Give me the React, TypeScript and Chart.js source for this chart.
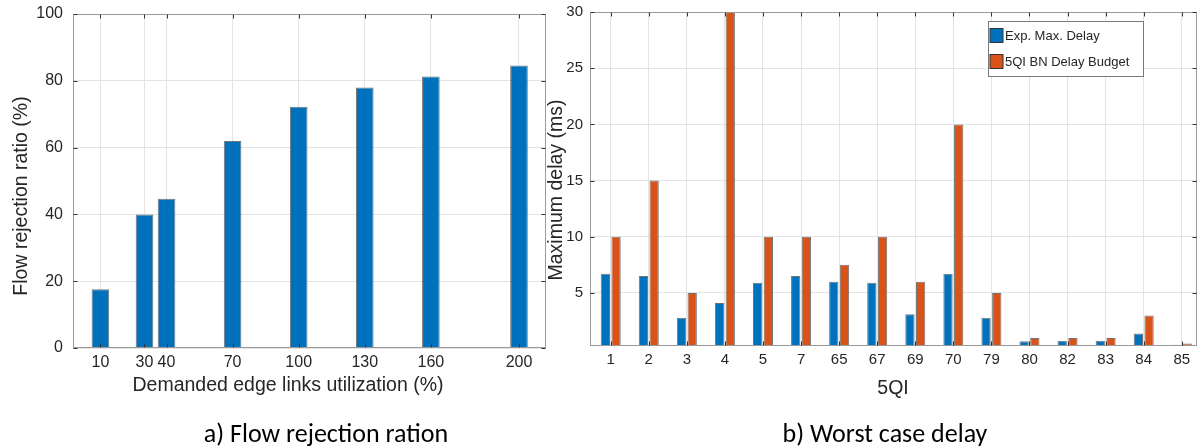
import React, { useEffect, useRef } from 'react';
import { Chart, registerables } from 'chart.js';

Chart.register(...registerables);

// ---- Data: left chart (a) ----
const utilization = [10, 30, 40, 70, 100, 130, 160, 200];
const rejectionRatio = [17.6, 40, 44.7, 62, 72.2, 78, 81.3, 84.6];
const rejectionTicks = [0, 20, 40, 60, 80, 100];

// ---- Data: right chart (b) ----
const qciLabels = ['1', '2', '3', '4', '5', '7', '65', '67', '69', '70', '79', '80', '82', '83', '84', '85'];
const expMaxDelay = [6.7, 6.5, 2.8, 4.1, 5.9, 6.5, 6.0, 5.9, 3.1, 6.7, 2.8, 0.7, 0.75, 0.75, 1.4, 0.4];
const delayBudget = [10, 15, 5, 30, 10, 10, 7.5, 10, 6, 20, 5, 1, 1, 1, 3, 0.5];
const delayTicks = [5, 10, 15, 20, 25, 30];

const seriesNames = ['Exp. Max. Delay', '5QI BN Delay Budget'];
const axisTitles = {
  ax: 'Demanded edge links utilization (%)',
  ay: 'Flow rejection ratio (%)',
  bx: '5QI',
  by: 'Maximum delay (ms)',
};
const captions = ['a) Flow rejection ration', 'b) Worst case delay'];

const FONT = "'Liberation Sans', Arial, Helvetica, sans-serif";
const TEXT = '#262626';
const GRID = '#e4e4e4';
const FRAME = '#9a9a9a';
const BLUE = '#0072BD';
const ORANGE = '#D95319';
const EDGE = 'rgba(0,0,0,0.55)';

const framePlugin = {
  id: 'matlabFrame',
  afterDatasetsDraw(chart: any) {
    const { ctx, chartArea: a, scales } = chart;
    const L = Math.round(a.left) + 0.5;
    const R = Math.round(a.right) - 0.5;
    const T = Math.round(a.top) + 0.5;
    const B = Math.round(a.bottom) - 0.5;
    ctx.save();
    ctx.lineWidth = 1;
    ctx.strokeStyle = FRAME;
    ctx.strokeRect(L, T, R - L, B - T);
    ctx.strokeStyle = '#333';
    ctx.beginPath();
    const xs = scales.x;
    xs.ticks.forEach((_: any, i: number) => {
      const px = Math.round(xs.getPixelForTick(i)) + 0.5;
      ctx.moveTo(px, B); ctx.lineTo(px, B - 4);
      ctx.moveTo(px, T); ctx.lineTo(px, T + 4);
    });
    const ys = scales.y;
    ys.ticks.forEach((_: any, i: number) => {
      const py = Math.round(ys.getPixelForTick(i)) + 0.5;
      ctx.moveTo(L, py); ctx.lineTo(L + 4, py);
      ctx.moveTo(R, py); ctx.lineTo(R - 4, py);
    });
    ctx.stroke();
    ctx.restore();
  },
};

// Axis titles drawn at fixed spots (the reference's labels are not centred on the axes)
const makeTitlePlugin = (
  xText: string, xc: number, yc: number,
  yText: string, yxc: number, yyc: number, size: number,
) => ({
  id: 'axisTitlesFixed',
  afterDraw(chart: any) {
    const { ctx } = chart;
    ctx.save();
    ctx.fillStyle = TEXT;
    ctx.font = `${size}px ${FONT}`;
    ctx.textAlign = 'center';
    ctx.textBaseline = 'middle';
    ctx.fillText(xText, xc, yc);
    ctx.translate(yxc, yyc);
    ctx.rotate(-Math.PI / 2);
    ctx.fillText(yText, 0, 0);
    ctx.restore();
  },
});

const boxLegendPlugin = {
  id: 'boxLegend',
  afterDraw(chart: any) {
    const { ctx, chartArea: a } = chart;
    const left = Math.round(a.right - 209) + 0.5;
    const top = Math.round(a.top + 9) + 0.5;
    const w = 155;
    const h = 55;
    ctx.save();
    ctx.fillStyle = '#ffffff';
    ctx.fillRect(left, top, w, h);
    ctx.strokeStyle = '#7a7a7a';
    ctx.lineWidth = 1;
    ctx.strokeRect(left, top, w, h);
    ctx.font = `13px ${FONT}`;
    ctx.textBaseline = 'middle';
    chart.data.datasets.forEach((ds: any, i: number) => {
      const sy = top + 7 + i * 26;
      ctx.fillStyle = ds.backgroundColor;
      ctx.fillRect(left + 1.5, sy, 13, 14);
      ctx.strokeStyle = '#333';
      ctx.strokeRect(left + 1.5, sy, 13, 14);
      ctx.fillStyle = TEXT;
      ctx.fillText(ds.label, left + 16.5, sy + 7.5);
    });
    ctx.restore();
  },
};

const noPad = (s: any) => {
  s.paddingTop = 0;
  s.paddingBottom = 0;
  s.paddingLeft = 0;
  s.paddingRight = 0;
};

export default function App() {
  const leftRef = useRef<HTMLCanvasElement | null>(null);
  const rightRef = useRef<HTMLCanvasElement | null>(null);

  useEffect(() => {
    const tickFont = (size: number) => ({ family: FONT, size });

    const left = new Chart(leftRef.current as HTMLCanvasElement, {
      type: 'bar',
      data: {
        datasets: [
          {
            label: axisTitles.ay,
            data: utilization.map((x, i) => ({ x, y: rejectionRatio[i] })),
            backgroundColor: BLUE,
            borderColor: EDGE,
            borderWidth: 1,
            barPercentage: 0.8,
            categoryPercentage: 1,
            clip: 0,
          } as any,
        ],
      },
      options: {
        responsive: false,
        animation: false,
        devicePixelRatio: 1,
        layout: { padding: { top: 14, right: 2, left: 0, bottom: 0 } },
        plugins: { legend: { display: false }, tooltip: { enabled: false } },
        scales: {
          x: {
            type: 'linear',
            offset: false,
            min: -2.45,
            max: 212.26,
            afterBuildTicks: (s: any) => {
              s.ticks = utilization.map((v) => ({ value: v }));
            },
            afterFit: (s: any) => {
              s.height = 72;
              noPad(s);
            },
            grid: { color: GRID, drawTicks: false, offset: false },
            border: { display: false },
            ticks: {
              font: tickFont(16),
              color: TEXT,
              padding: 5,
              maxRotation: 0,
              autoSkip: false,
              callback: (v: any) => String(v),
            },
          },
          y: {
            min: 0,
            max: 100,
            afterBuildTicks: (s: any) => {
              s.ticks = rejectionTicks.map((v) => ({ value: v }));
            },
            afterFit: (s: any) => {
              s.width = 73;
              noPad(s);
            },
            grid: { color: GRID, drawTicks: false },
            border: { display: false },
            ticks: { font: tickFont(16), color: TEXT, padding: 10 },
          },
        },
      } as any,
      plugins: [framePlugin, makeTitlePlugin(axisTitles.ax, 288, 386, axisTitles.ay, 21.5, 196, 19.5)],
    });

    const right = new Chart(rightRef.current as HTMLCanvasElement, {
      type: 'bar',
      data: {
        datasets: [
          {
            label: seriesNames[0],
            data: expMaxDelay.map((y, i) => ({ x: i + 1, y })),
            backgroundColor: BLUE,
            borderColor: EDGE,
            borderWidth: 1,
            barPercentage: 0.87,
            categoryPercentage: 0.562,
            clip: 0,
          } as any,
          {
            label: seriesNames[1],
            data: delayBudget.map((y, i) => ({ x: i + 1, y })),
            backgroundColor: ORANGE,
            borderColor: EDGE,
            borderWidth: 1,
            barPercentage: 0.87,
            categoryPercentage: 0.562,
            clip: 0,
          } as any,
        ],
      },
      options: {
        responsive: false,
        animation: false,
        devicePixelRatio: 1,
        layout: { padding: { top: 12, right: 1, left: 0, bottom: 0 } },
        plugins: { legend: { display: false }, tooltip: { enabled: false } },
        scales: {
          x: {
            type: 'linear',
            offset: false,
            min: 0.456,
            max: 16.4,
            afterBuildTicks: (s: any) => {
              s.ticks = qciLabels.map((_, i) => ({ value: i + 1 }));
            },
            afterFit: (s: any) => {
              s.height = 74;
              noPad(s);
            },
            grid: { color: GRID, drawTicks: false, offset: false },
            border: { display: false },
            ticks: {
              font: tickFont(15),
              color: TEXT,
              padding: 5,
              maxRotation: 0,
              autoSkip: false,
              callback: (v: any) => qciLabels[Math.round(v) - 1],
            },
          },
          y: {
            min: 0.28,
            max: 30,
            afterBuildTicks: (s: any) => {
              s.ticks = delayTicks.map((v) => ({ value: v }));
            },
            afterFit: (s: any) => {
              s.width = 50;
              noPad(s);
            },
            grid: { color: GRID, drawTicks: false },
            border: { display: false },
            ticks: { font: tickFont(15), color: TEXT, padding: 7 },
          },
        },
      } as any,
      plugins: [
        framePlugin,
        boxLegendPlugin,
        makeTitlePlugin(axisTitles.bx, 353, 389, axisTitles.by, 17, 190, 19.5),
      ],
    });

    return () => {
      left.destroy();
      right.destroy();
    };
  }, []);

  const captionStyle = (cx: number): React.CSSProperties => ({
    position: 'absolute',
    left: cx,
    top: 417,
    transform: 'translateX(-50%)',
    whiteSpace: 'nowrap',
    fontFamily: "Carlito, Calibri, Lato, 'Open Sans', sans-serif",
    fontSize: 26,
    lineHeight: '32px',
    color: '#000',
  });

  return (
    <div
      style={{
        position: 'fixed',
        left: 0,
        top: 0,
        width: 1198,
        height: 448,
        background: '#fff',
        overflow: 'hidden',
      }}
    >
      <canvas
        ref={leftRef}
        width={548}
        height={420}
        style={{ position: 'absolute', left: 0, top: 0, width: 548, height: 420 }}
      />
      <canvas
        ref={rightRef}
        width={658}
        height={420}
        style={{ position: 'absolute', left: 540, top: 0, width: 658, height: 420 }}
      />
      <div style={captionStyle(326)}>{captions[0]}</div>
      <div style={captionStyle(885)}>{captions[1]}</div>
    </div>
  );
}
